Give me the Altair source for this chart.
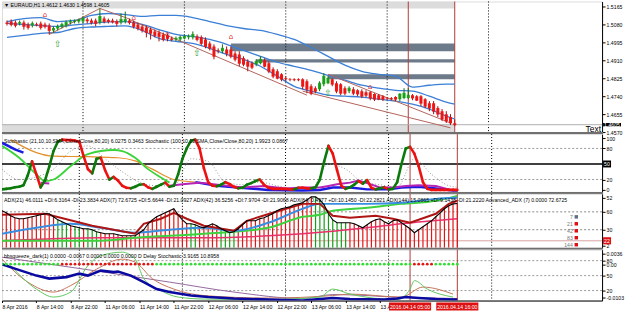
import json
import altair as alt
import pandas as pd

W = 602
H1, H2, H3, H4 = 131, 58, 54, 51
XDOM = [0, 139.7]
FONT = "Liberation Sans"
FS = 5.2

# ---------------- price panel data (EURAUD H1) ----------------
OPEN = [1.5089,1.5094,1.5089,1.5085,1.5089,1.5080,1.5075,1.5080,1.5085,1.5080,
        1.5075,1.5052,1.5061,1.5071,1.5075,1.5089,1.5092,1.5094,1.5094,1.5104,
        1.5099,1.5099,1.5089,1.5108,1.5101,1.5099,1.5097,1.5089,1.5094,1.5099,
        1.5089,1.5080,1.5071,1.5066,1.5056,1.5047,1.5042,1.5033,1.5028,1.5014,
        1.5009,1.5009,1.5014,1.5019,1.5019,1.5023,1.5019,1.5009,1.4990,1.4976,
        1.4957,1.4953,1.4962,1.4962,1.4943,1.4938,1.4920,1.4905,1.4896,1.4891,
        1.4896,1.4910,1.4896,1.4868,1.4858,1.4844,1.4825,1.4820,1.4820,1.4820,
        1.4820,1.4811,1.4787,1.4778,1.4773,1.4797,1.4802,1.4820,1.4802,1.4797,
        1.4778,1.4764,1.4773,1.4768,1.4764,1.4759,1.4759,1.4750,1.4745,1.4740,
        1.4731,1.4731,1.4736,1.4726,1.4731,1.4731,1.4745,1.4740,1.4740,1.4726,
        1.4707,1.4707,1.4684,1.4669,1.4655,1.4641,1.4612]
CLOSE = [1.5085,1.5080,1.5075,1.5089,1.5071,1.5066,1.5085,1.5078,1.5066,1.5071,
         1.5052,1.5061,1.5071,1.5080,1.5089,1.5094,1.5094,1.5101,1.5108,1.5097,
         1.5089,1.5085,1.5118,1.5094,1.5094,1.5092,1.5085,1.5104,1.5104,1.5089,
         1.5071,1.5061,1.5052,1.5042,1.5038,1.5028,1.5023,1.5009,1.5014,1.5009,
         1.5014,1.5019,1.5023,1.5023,1.5033,1.5009,1.4990,1.4976,1.4967,1.4929,
         1.4955,1.4967,1.4943,1.4929,1.4915,1.4896,1.4891,1.4882,1.4877,1.4905,
         1.4915,1.4882,1.4858,1.4835,1.4825,1.4820,1.4823,1.4820,1.4818,1.4818,
         1.4787,1.4773,1.4754,1.4764,1.4802,1.4835,1.4825,1.4797,1.4764,1.4754,
         1.4754,1.4778,1.4754,1.4750,1.4740,1.4745,1.4731,1.4726,1.4726,1.4726,
         1.4731,1.4729,1.4726,1.4750,1.4754,1.4745,1.4731,1.4721,1.4707,1.4693,
         1.4684,1.4669,1.4655,1.4632,1.4622,1.4613,1.4605]
HIGH = [1.5099,1.5104,1.5099,1.5099,1.5099,1.5089,1.5094,1.5089,1.5094,1.5089,
        1.5085,1.5071,1.5080,1.5089,1.5099,1.5104,1.5104,1.5108,1.5118,1.5113,
        1.5108,1.5108,1.5156,1.5118,1.5108,1.5108,1.5104,1.5132,1.5141,1.5108,
        1.5099,1.5089,1.5080,1.5075,1.5066,1.5056,1.5052,1.5042,1.5038,1.5023,
        1.5023,1.5028,1.5033,1.5033,1.5047,1.5033,1.5028,1.5019,1.5000,1.4986,
        1.4967,1.4986,1.4976,1.4976,1.4953,1.4953,1.4929,1.4915,1.4905,1.4915,
        1.4929,1.4920,1.4905,1.4877,1.4868,1.4849,1.4835,1.4825,1.4825,1.4825,
        1.4825,1.4820,1.4797,1.4787,1.4811,1.4849,1.4835,1.4825,1.4811,1.4802,
        1.4787,1.4787,1.4783,1.4773,1.4773,1.4768,1.4764,1.4754,1.4750,1.4745,
        1.4736,1.4736,1.4740,1.4754,1.4778,1.4778,1.4750,1.4745,1.4745,1.4731,
        1.4717,1.4717,1.4693,1.4679,1.4669,1.4655,1.4630]
LOW = [1.5075,1.5071,1.5066,1.5075,1.5056,1.5056,1.5066,1.5071,1.5056,1.5061,
       1.5033,1.5042,1.5052,1.5061,1.5066,1.5080,1.5085,1.5085,1.5085,1.5085,
       1.5080,1.5071,1.5080,1.5085,1.5085,1.5085,1.5071,1.5080,1.5085,1.5080,
       1.5061,1.5052,1.5042,1.5019,1.5009,1.5019,1.5000,1.5000,1.5000,1.5000,
       1.5000,1.5000,1.5009,1.5009,1.5009,1.5000,1.4981,1.4967,1.4957,1.4915,
       1.4943,1.4943,1.4929,1.4920,1.4905,1.4882,1.4882,1.4858,1.4868,1.4882,
       1.4891,1.4877,1.4849,1.4825,1.4820,1.4811,1.4811,1.4811,1.4811,1.4811,
       1.4773,1.4754,1.4745,1.4754,1.4764,1.4787,1.4797,1.4787,1.4754,1.4745,
       1.4745,1.4754,1.4745,1.4740,1.4731,1.4736,1.4721,1.4717,1.4721,1.4717,
       1.4721,1.4721,1.4717,1.4717,1.4726,1.4726,1.4721,1.4717,1.4693,1.4684,
       1.4669,1.4655,1.4641,1.4622,1.4613,1.4604,1.4598]
BARS = list(range(len(OPEN)))
LAST = 1.4605

BB_T = [0,4,8,12,16,20,24,28,32,36,40,44,48,52,56,60,64,68,72,76,80,84,88,92,96,100,104,106]
BB_UP = [1.5094,1.5108,1.5113,1.5094,1.5099,1.5123,1.5132,1.5127,1.5118,1.5123,1.5123,1.5113,1.5094,1.5075,
         1.5061,1.5052,1.5033,1.5009,1.4971,1.4929,1.4887,1.4858,1.4844,1.4835,1.4783,1.4792,1.4797,1.4797]
BB_MID = [1.5085,1.5080,1.5075,1.5071,1.5078,1.5085,1.5092,1.5094,1.5080,1.5056,1.5033,1.5023,1.5009,1.4986,
          1.4957,1.4929,1.4901,1.4882,1.4863,1.4839,1.4816,1.4792,1.4778,1.4768,1.4764,1.4740,1.4712,1.4702]
BB_LOW = [1.5019,1.5028,1.5038,1.5042,1.5061,1.5068,1.5071,1.5073,1.5052,1.5014,1.5000,1.4990,1.4967,1.4938,
          1.4915,1.4882,1.4835,1.4787,1.4764,1.4745,1.4740,1.4736,1.4726,1.4717,1.4702,1.4679,1.4646,1.4632]

ZONE_T0 = [-2, -2, 53, 59, 76]
ZONE_T1 = [106, 106, 106, 106, 106]
ZONE_TOP = [1.5189, 1.4606, 1.4990, 1.4915, 1.4844]
ZONE_BOT = [1.5156, 1.4570, 1.4953, 1.4900, 1.4820]
ZONE_COL = ["#dcdcdc", "#dcdcdc", "#6d7a8a", "#6d7a8a", "#6d7a8a"]

TL_ID = ["a", "a", "a", "b", "b", "c", "c", "d", "d"]
TL_T = [10, 22, 29, 29, 71, 76, 105, 70, 105]
TL_P = [1.5033, 1.5156, 1.5106, 1.5104, 1.4745, 1.4844, 1.4613, 1.4764, 1.4590]

UPARROW_T = [12, 45, 76]
UPARROW_P = [1.4986, 1.4943, 1.4754]
FRACTAL_T = [9, 30, 38, 53, 86]
FRACTAL_P = [1.5123, 1.5113, 1.5033, 1.5023, 1.4783]

PRICE_TICKS = [1.5165, 1.5080, 1.4995, 1.4910, 1.4825, 1.4740, 1.4655, 1.4570]

DAY_T = [18, 42, 66, 90, 114]
RED_T = [95, 106]

# ---------------- stochastic panel ----------------
STO_FAST = [1,2,3,5,6,9,28,55,30,5,
            18,45,75,93,97,96,96,95,93,65,
            40,32,60,62,38,20,25,18,8,4,
            3,6,10,11,5,2,6,10,14,6,
            8,30,60,80,95,97,80,42,15,8,
            7,10,15,11,6,3,4,10,13,17,
            20,10,4,2,2,2,2,1,1,4,
            4,3,3,5,20,55,85,70,38,8,
            2,5,10,17,12,19,4,1,3,5,
            1,2,15,50,80,83,70,46,15,2,
            0,0,0,0,0,0,0]
LIME_T = [0,4,8,10,12,16,20,26,28,31,34,37,39]
LIME_V = [85,62,30,17,20,46,69,77,75,62,40,24,14]
ORANGE_T = [2,8,12,20,27,31,35,40,45]
ORANGE_V = [97,72,65,64,62,56,40,20,15]
BLUE_SEG = [1,1,1,2,2,2,2,2,2,2,2,2,2,2,2,2,2]
BLUE_T = [0,3,5,45,50,62,70,74,77,81,85,90,93,97,101,105,106]
BLUE_V = [91,78,72,15,8,0,-1,0,4.5,4.5,1,1,4.5,6,2.5,-1,-1]
MAG_SEG = [1,1,2,2,2,2,2,2,2,2,2,2,2,2,2,2,2,2,2,2,2,2]
MAG_T = [9,11,39,42,46,56,61,66,70,74,76,78,81,83,85,88,91,94,97,101,104,106]
MAG_V = [14,12.5,8,11,14,4.5,7.7,2.5,4.5,4.5,7.7,11,14,18,13,4.5,4.5,7.7,9,7.7,1,0]
SIG_T = [0,4,8,12,16,20,24,28,32,36,40,44,48,52,56,60,64,68,72,76,80,84,88,92,96,100,104,106]
SIG_V = [40,20,25,40,75,85,60,35,15,8,8,60,55,15,10,15,8,3,3,50,40,15,10,5,60,30,8,5]
STO_LEVELS_DOT = [80, 20]
STO_HDR = ("Stochastic (21,10,10,SMA,Close/Close,80,20) 6.0275 0.3463  "
           "Stochastic (100,10,10,SMA,Close/Close,80,20) 1.9923 0.0867")

# ---------------- ADX panel ----------------
ADX = [38.4,36.3,33.2,31.1,30.1,30.1,31.1,32.2,33.2,34.2,
       35.3,35.3,32.2,29.0,27.0,24.9,22.8,21.8,20.7,19.7,
       19.7,18.7,16.6,15.6,14.5,14.5,14.5,13.5,12.4,12.4,
       12.4,12.4,15.6,18.7,24.9,29.0,32.2,34.2,36.3,38.4,
       40.5,34.2,29.0,24.9,24.9,23.9,21.8,20.7,22.8,24.9,
       22.8,19.7,17.6,15.6,16.6,19.7,23.9,28.0,28.0,28.0,
       30.1,31.1,33.2,35.3,38.4,40.5,41.5,42.5,44.6,45.6,
       46.7,49.8,52.9,52.9,49.8,44.6,35.3,29.0,25.9,25.9,
       25.9,25.9,24.9,22.8,20.7,23.9,27.0,29.0,30.1,27.0,
       24.9,28.0,29.0,25.9,22.8,19.7,15.6,18.7,21.8,24.9,
       28.0,32.2,36.3,40.5,43.6,45.6,46.0]
ADX_GREEN = [13,14,15,17,18,20,21,22,44,45,51,52,53,54,73,74,75,76,77,78,79,80]
DR_T = [0,10,21,31,33,37,40,43,47,54,57,63,70,74,77,81,87,91,95,101,104,106]
DR_V = [34.2,35.3,22.8,14.5,24.9,30.1,36.3,30.1,22.8,17.6,28.0,36.3,45.6,45.6,33.2,31.1,33.2,30.1,25.9,35.3,45.6,48.8]
BL_T = [0,8,16,23,31,39,47,54,62,70,74,77,85,93,101,106]
BL_V = [14.5,20.7,24.9,20.7,15.6,18.7,20.7,17.6,25.9,40.5,45.6,45.6,45.6,46.7,50.8,51.9]
GR_T = [0,23,31,47,62,70,74,77,85,93,101,106]
GR_V = [7.3,7.3,10.4,14.5,20.7,32.2,34.2,38.4,41.5,45.6,48.8,53.9]
CR_T = [0,23,47,70,85,93,106]
CR_V = [7.3,10.4,10.4,14.5,20.7,24.9,30.1]
ADX_DOT_LEVELS = [37.3, 18.7]
ADX_LINE_LEVEL = 7.2
ADX_TICKS = [52, 37.3, 18.7, 2]
ADX_TICK_TEXT = ["52", "60", "30", "2"]
LEG_TXT = ["7", "21", "42", "83", "144"]
LEG_V = [32.1, 24.9, 17.6, 10.4, 3.1]
LEG_COL = ["#607080", "#dd1111", "#dd1111", "#dd1111", "#dd1111"]
ADX_HDR = ("ADX(21) 46.0111 +DI:6.3164 -DI:23.3834  ADX(7) 72.6725 +DI:5.6644 -DI:21.0927  "
           "ADX(42) 36.5256 +DI:7.9704 -DI:21.9068  ADX(84) 0.4977 +DI:10.1450 -DI:22.2821  "
           "ADX(144) 15.0865 +DI:9.1438 -DI:21.2220  Advanced_ADX (7) 0.0000 72.6725")

# ---------------- squeeze panel ----------------
SQ_T = [0,3,8,11,15,18,20,23,26,27,30,33,36,39,44,48,54,62,70,74,77,81,89,92,94,97,101,105,106]
SQ_V = [73,64,50,44,47,54,50,60,57,58,50,37,23,17,10,7,4,2,0,3,5,3,2,4,7,5,3,2,2]
MV_T = [0,23,39,54,70,77,85,93,101,106]
MV_V = [87,58,37,17,4,12,10,6,5,4]
LG_T = [2,8,12,16,20,23,28,31,33,37,41,47,62,74,77,81,92,95,96,99,105]
LG_V = [70,23,7,17,70,90,97,83,44,20,7,3,2,7,23,13,2,23,40,23,7]
SA_T = [0,6,12,16,22,28,31,35,40,47,62,77,81,93,98,105]
SA_V = [83,37,17,30,63,83,77,44,23,10,5,10,13,7,27,13]
SQZ_DOT_LEVEL = 73
SQZ_RED = list(range(14, 36)) + list(range(96, 101))
SQ_LEVELS = [80, 50, 20]
SQ_TICKS = [94, 80, 73, 50, 20, 6]
SQ_TICK_TEXT = ["0.0036", "80", "0.00", "50", "20", "-0.0103"]
SQ_HDR = "bbsqueeze_dark(1) 0.0000 -0.0067 0.0000 0.0000 0.0000  D Delay Stochastic 3.9165 10.8958"

XLAB_T = [0, 8, 16, 24, 32, 40, 48, 56, 64, 72, 80, 88]
XLAB = ["8 Apr 2016", "8 Apr 14:00", "8 Apr 22:00", "11 Apr 06:00", "11 Apr 14:00", "11 Apr 22:00",
        "12 Apr 06:00", "12 Apr 14:00", "12 Apr 22:00", "13 Apr 06:00", "13 Apr 14:00", "13 Apr 22:00"]
RED_LAB = ["2016.04.14 05:00", "2016.04.14 16:00"]

# ---------------- helpers ----------------
AXS = dict(grid=False, domainColor="black", tickColor="black", labelColor="black",
           labelFont=FONT, labelFontSize=FS, tickSize=3, labelPadding=1,
           labelOverlap=False, title=None, labelFlush=False, domainWidth=1)
XSCALE = alt.Scale(domain=XDOM, nice=False, zero=False)


def mkX(field, xa=None):
    return alt.X(f"{field}:Q", scale=XSCALE, axis=xa)


def mkY(field, scale, ya):
    return alt.Y(f"{field}:Q", scale=scale, axis=ya)


def common(xa, H):
    vl = alt.Chart(pd.DataFrame({"t": DAY_T})).mark_rule(
        color="black", strokeDash=[1, 2], strokeWidth=1).encode(x=mkX("t", xa))
    rl = alt.Chart(pd.DataFrame({"t": RED_T})).mark_rule(
        color="#b03c3c", strokeWidth=1).encode(x=mkX("t", xa))
    return [vl, rl]


def sep(H):
    return alt.Chart(pd.DataFrame({"a": [0]})).mark_rule(color="#6f6f6f", strokeWidth=2).encode(
        x=alt.value(0), x2=alt.value(W + 1), y=alt.value(H + 1))


def header(txt, ypix):
    return alt.Chart(pd.DataFrame({"s": [txt]})).mark_text(
        align="left", baseline="middle", font=FONT, fontSize=FS, color="black").encode(
        x=alt.value(2), y=alt.value(ypix), text="s:N")


def line_df(ts, vs, segs=None):
    d = pd.DataFrame({"t": ts, "v": vs})
    d["seg"] = segs if segs is not None else 1
    return d


# ---------------- panel 1: price ----------------
PS = alt.Scale(domain=[1.4570, 1.5189], nice=False, zero=False)
PAX = alt.Axis(orient="right", values=PRICE_TICKS, format=".4f", **AXS)
Yp = lambda f: mkY(f, PS, PAX)

zones = alt.Chart(pd.DataFrame({"t0": ZONE_T0, "t1": ZONE_T1, "top": ZONE_TOP, "bot": ZONE_BOT,
                                "col": ZONE_COL})).mark_rect(clip=True).encode(
    x=mkX("t0"), x2="t1", y=Yp("top"), y2="bot", color=alt.Color("col:N", scale=None))

bid = alt.Chart(pd.DataFrame({"p": [LAST]})).mark_rule(color="#b0b0b0", strokeWidth=1).encode(
    x=alt.value(0), x2=alt.value(W), y=Yp("p"))

bbd = pd.concat([pd.DataFrame({"t": BB_T, "p": arr, "band": nm})
                 for nm, arr in [("up", BB_UP), ("mid", BB_MID), ("low", BB_LOW)]])
bands = alt.Chart(bbd).mark_line(color="#3b7fd6", strokeWidth=1.3, interpolate="monotone",
                                 clip=True).encode(x=mkX("t"), y=Yp("p"), detail="band:N")

tl = alt.Chart(pd.DataFrame({"id": TL_ID, "t": TL_T, "p": TL_P})).mark_line(
    color="#b4635c", strokeWidth=1, clip=True).encode(x=mkX("t"), y=Yp("p"), detail="id:N")

cd = pd.DataFrame({"t": BARS, "o": OPEN, "h": HIGH, "l": LOW, "c": CLOSE})
cd["bc"] = ["#16a016" if c > o else "#ee1515" for o, c in zip(OPEN, CLOSE)]
cd["wc"] = ["#0e700e" if c > o else "#a81010" for o, c in zip(OPEN, CLOSE)]
wicks = alt.Chart(cd).mark_rule(strokeWidth=1, clip=True).encode(
    x=mkX("t"), y=Yp("l"), y2="h", color=alt.Color("wc:N", scale=None))
bodies = alt.Chart(cd).mark_bar(size=3, clip=True).encode(
    x=mkX("t"), y=Yp("o"), y2="c", color=alt.Color("bc:N", scale=None))
dashes = alt.Chart(cd).mark_point(shape="stroke", size=9, strokeWidth=1, filled=False, clip=True).encode(
    x=mkX("t"), y=Yp("c"), color=alt.Color("bc:N", scale=None))

arrows = alt.Chart(pd.DataFrame({"t": UPARROW_T, "p": UPARROW_P})).mark_text(
    font="DejaVu Sans", fontSize=9, color="#2f9f2f").encode(x=mkX("t"), y=Yp("p"), text=alt.value("⇧"))
fractals = alt.Chart(pd.DataFrame({"t": FRACTAL_T, "p": FRACTAL_P})).mark_text(
    font="DejaVu Sans", fontSize=7, color="#e02020").encode(x=mkX("t"), y=Yp("p"), text=alt.value("⌂"))

pbox = alt.Chart(pd.DataFrame({"hi": [LAST + 0.0008], "lo": [LAST - 0.0008]})).mark_rect(color="black").encode(
    x=alt.value(603), x2=alt.value(621), y=Yp("hi"), y2="lo")
ptxt = alt.Chart(pd.DataFrame({"p": [LAST], "s": [f"{LAST:.4f}"]})).mark_text(
    align="left", baseline="middle", font=FONT, fontSize=FS, color="white").encode(
    x=alt.value(604), y=Yp("p"), text="s:N")
textlab = alt.Chart(pd.DataFrame({"p": [1.4584], "s": ["Text"]})).mark_text(
    align="right", baseline="middle", font=FONT, fontSize=8.5, color="black").encode(
    x=alt.value(601), y=Yp("p"), text="s:N")

p1 = alt.layer(zones, *common(None, H1), bid, bands, tl, wicks, bodies, dashes, arrows, fractals,
               header("\u25bc EURAUD,H1  1.4612 1.4630 1.4598 1.4605", 4), textlab, pbox, ptxt,
               sep(H1)).properties(width=W, height=H1)

# ---------------- panel 2: stochastic ----------------
SS = alt.Scale(domain=[-3.85, 107.7], nice=False, zero=False)
SAX = alt.Axis(orient="right", values=[100, 80, 20, 0], format="d", **AXS)
Ys = lambda f: mkY(f, SS, SAX)

slev = alt.Chart(pd.DataFrame({"v": STO_LEVELS_DOT})).mark_rule(
    color="#9a9a9a", strokeDash=[2, 2], strokeWidth=1).encode(x=alt.value(0), x2=alt.value(W), y=Ys("v"))
s50 = alt.Chart(pd.DataFrame({"v": [50]})).mark_rule(color="black", strokeWidth=1.5).encode(
    x=alt.value(0), x2=alt.value(W), y=Ys("v"))
sig = alt.Chart(line_df(SIG_T, SIG_V)).mark_line(color="#9a9a9a", strokeDash=[1, 2], strokeWidth=1,
                                                   interpolate="monotone", clip=True).encode(x=mkX("t"), y=Ys("v"))
orange = alt.Chart(line_df(ORANGE_T, ORANGE_V)).mark_line(color="#e58f2a", strokeWidth=1.2,
                                                          interpolate="monotone", clip=True).encode(x=mkX("t"), y=Ys("v"))
lime = alt.Chart(line_df(LIME_T, LIME_V)).mark_line(color="#3ad43a", strokeWidth=1.8,
                                                    interpolate="monotone", clip=True).encode(x=mkX("t"), y=Ys("v"))
blue = alt.Chart(line_df(BLUE_T, BLUE_V, BLUE_SEG)).mark_line(color="#1a1ae0", strokeWidth=2.5, clip=True).encode(
    x=mkX("t"), y=Ys("v"), detail="seg:N")
mag = alt.Chart(line_df(MAG_T, MAG_V, MAG_SEG)).mark_line(color="#b624b6", strokeWidth=2, clip=True).encode(
    x=mkX("t"), y=Ys("v"), detail="seg:N")
segs = pd.DataFrame({"t0": BARS[:-1], "t1": BARS[1:], "v0": STO_FAST[:-1], "v1": STO_FAST[1:]})
segs["col"] = ["#0b7a0b" if b > a else "#ee1111" for a, b in zip(STO_FAST[:-1], STO_FAST[1:])]
fast = alt.Chart(segs).mark_rule(strokeWidth=2.6, strokeCap="round", clip=True).encode(
    x=mkX("t0"), x2="t1", y=Ys("v0"), y2="v1", color=alt.Color("col:N", scale=None))
sbox = alt.Chart(pd.DataFrame({"hi": [56.7], "lo": [43.3]})).mark_rect(color="black").encode(
    x=alt.value(603), x2=alt.value(611), y=Ys("hi"), y2="lo")
stxt = alt.Chart(pd.DataFrame({"v": [50], "s": ["50"]})).mark_text(
    align="left", baseline="middle", font=FONT, fontSize=FS, color="white").encode(
    x=alt.value(604), y=Ys("v"), text="s:N")

p2 = alt.layer(slev, s50, *common(None, H2), sig, orange, lime, blue, mag, fast,
               header(STO_HDR, 7), sbox, stxt, sep(H2)).properties(width=W, height=H2)

# ---------------- panel 3: ADX ----------------
AS = alt.Scale(domain=[0, 56], nice=False, zero=False)
aexpr = ":".join(f"datum.value=={v}?'{s}'" for v, s in zip(ADX_TICKS[:-1], ADX_TICK_TEXT[:-1])) + f":'{ADX_TICK_TEXT[-1]}'"
AAX = alt.Axis(orient="right", values=ADX_TICKS, labelExpr=aexpr, **AXS)
Ya = lambda f: mkY(f, AS, AAX)

alev = alt.Chart(pd.DataFrame({"v": ADX_DOT_LEVELS})).mark_rule(
    color="#8a8a8a", strokeDash=[2, 2], strokeWidth=1).encode(x=alt.value(0), x2=alt.value(W), y=Ya("v"))
asal = alt.Chart(pd.DataFrame({"v": [ADX_LINE_LEVEL]})).mark_rule(color="#d9a3a3", strokeWidth=1).encode(
    x=alt.value(0), x2=alt.value(W), y=Ya("v"))
hd = pd.DataFrame({"t": BARS, "v": ADX, "z": 0})
hd["col"] = ["#13a013" if i in ADX_GREEN else "#e01515" for i in BARS]
hist = alt.Chart(hd).mark_rule(strokeWidth=1.2, clip=True).encode(
    x=mkX("t"), y=Ya("z"), y2="v", color=alt.Color("col:N", scale=None))
crim = alt.Chart(line_df(CR_T, CR_V)).mark_line(color="#e8306a", strokeWidth=1.5, interpolate="monotone",
                                                clip=True).encode(x=mkX("t"), y=Ya("v"))
grn = alt.Chart(line_df(GR_T, GR_V)).mark_line(color="#3fd23f", strokeWidth=2, interpolate="monotone",
                                               clip=True).encode(x=mkX("t"), y=Ya("v"))
blu = alt.Chart(line_df(BL_T, BL_V)).mark_line(color="#3a8ee0", strokeWidth=2, interpolate="monotone",
                                               clip=True).encode(x=mkX("t"), y=Ya("v"))
drd = alt.Chart(line_df(DR_T, DR_V)).mark_line(color="#b01515", strokeWidth=2, clip=True).encode(
    x=mkX("t"), y=Ya("v"))
blk = alt.Chart(hd).mark_line(color="black", strokeWidth=1.1, clip=True).encode(x=mkX("t"), y=Ya("v"))
legd = pd.DataFrame({"s": LEG_TXT, "v": LEG_V, "col": LEG_COL, "tx": 132.9, "ts": 133.7})
legt = alt.Chart(legd).mark_text(align="right", baseline="middle", font=FONT, fontSize=FS, color="#777777").encode(
    x=mkX("tx"), y=Ya("v"), text="s:N")
legs = alt.Chart(legd).mark_square(size=12, opacity=1).encode(
    x=mkX("ts"), y=Ya("v"), color=alt.Color("col:N", scale=None))
abox = alt.Chart(pd.DataFrame({"hi": [ADX_LINE_LEVEL + 3.7], "lo": [ADX_LINE_LEVEL - 3.7]})).mark_rect(
    color="#dd1111").encode(x=alt.value(603), x2=alt.value(611), y=Ya("hi"), y2="lo")
atxt = alt.Chart(pd.DataFrame({"v": [ADX_LINE_LEVEL], "s": ["22"]})).mark_text(
    align="left", baseline="middle", font=FONT, fontSize=FS, color="white").encode(
    x=alt.value(604), y=Ya("v"), text="s:N")

p3 = alt.layer(alev, asal, *common(None, H3), hist, crim, grn, blu, drd, blk,
               header(ADX_HDR, 6), legt, legs, abox, atxt, sep(H3)).properties(width=W, height=H3)

# ---------------- panel 4: squeeze ----------------
QS = alt.Scale(domain=[0, 102], nice=False, zero=False)
qexpr = ":".join(f"datum.value=={v}?'{s}'" for v, s in zip(SQ_TICKS[:-1], SQ_TICK_TEXT[:-1])) + f":'{SQ_TICK_TEXT[-1]}'"
QAX = alt.Axis(orient="right", values=SQ_TICKS, labelExpr=qexpr, **AXS)
Yq = lambda f: mkY(f, QS, QAX)
XAX = alt.Axis(values=XLAB_T, labelExpr=json.dumps(XLAB) + "[round(datum.value/8)]",
               labelAlign="left", grid=False, domainColor="black", tickColor="black", labelColor="black",
               labelFont=FONT, labelFontSize=FS, tickSize=2, labelPadding=2, labelOverlap=False,
               labelFlush=False, title=None)

qlev = alt.Chart(pd.DataFrame({"v": SQ_LEVELS})).mark_rule(
    color="#9a9a9a", strokeDash=[2, 2], strokeWidth=1).encode(x=alt.value(0), x2=alt.value(W), y=Yq("v"))
mv = alt.Chart(line_df(MV_T, MV_V)).mark_line(color="#94689e", strokeWidth=1, interpolate="monotone",
                                              clip=True).encode(x=mkX("t", XAX), y=Yq("v"))
sa = alt.Chart(line_df(SA_T, SA_V)).mark_line(color="#c4745a", strokeWidth=1, interpolate="monotone",
                                              clip=True).encode(x=mkX("t", XAX), y=Yq("v"))
lg = alt.Chart(line_df(LG_T, LG_V)).mark_line(color="#62c862", strokeWidth=1, interpolate="monotone",
                                              clip=True).encode(x=mkX("t", XAX), y=Yq("v"))
sq = alt.Chart(line_df(SQ_T, SQ_V)).mark_line(color="#0a0aa0", strokeWidth=2.6, clip=True).encode(
    x=mkX("t", XAX), y=Yq("v"))
dd = pd.DataFrame({"t": BARS, "v": SQZ_DOT_LEVEL})
dd["col"] = ["#e01515" if i in SQZ_RED else "#33dd33" for i in BARS]
dots = alt.Chart(dd).mark_circle(size=8, opacity=1, clip=True).encode(
    x=mkX("t", XAX), y=Yq("v"), color=alt.Color("col:N", scale=None))
rl = pd.DataFrame({"t": RED_T, "s": RED_LAB})
rl["a"] = rl["t"] - 4.9
rl["b"] = rl["t"] + 4.9
rlab_bg = alt.Chart(rl).mark_rect(color="#dd1111").encode(
    x=mkX("a", XAX), x2="b", y=alt.value(H4 + 2), y2=alt.value(H4 + 10))
rlab_tx = alt.Chart(rl).mark_text(baseline="middle", font=FONT, fontSize=FS, color="white").encode(
    x=mkX("t", XAX), y=alt.value(H4 + 6), text="s:N")

p4 = alt.layer(qlev, *common(XAX, H4), mv, sa, lg, sq, dots, header(SQ_HDR, 6),
               rlab_bg, rlab_tx).properties(width=W, height=H4)

chart = alt.vconcat(p1, p2, p3, p4, spacing=2, bounds="flush").properties(
    padding={"left": 0, "top": 0, "right": 0, "bottom": 0}
).configure_view(strokeWidth=0).configure(background="white")

chart.save("out.html", embed_options={"renderer": "svg", "actions": False})
